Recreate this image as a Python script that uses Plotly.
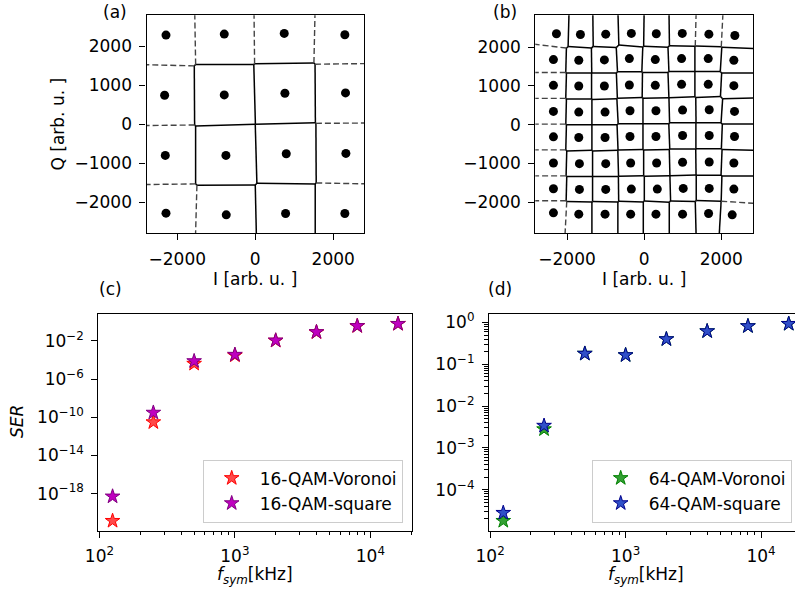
import numpy as np
import plotly.graph_objects as go

# ---------------- constellation points (I, Q) ----------------
I_16 = [-2290, -795, 744, 2299,
        -2325, -795, 761, 2316,
        -2308, -752, 795, 2325,
        -2290, -744, 778, 2299]
Q_16 = [2288, 2314, 2331, 2297,
        746, 755, 797, 806,
        -796, -796, -753, -745,
        -2278, -2321, -2287, -2287]

I_64 = [-2275, -1653, -997, -332, 315, 989, 1679, 2353,
        -2353, -1696, -1032, -384, 289, 971, 1662, 2327,
        -2353, -1696, -1032, -384, 289, 971, 1662, 2327,
        -2353, -1696, -1014, -367, 306, 997, 1688, 2344,
        -2353, -1696, -1014, -367, 306, 997, 1688, 2344,
        -2353, -1679, -997, -350, 324, 997, 1688, 2327,
        -2353, -1679, -997, -332, 341, 1014, 1688, 2327,
        -2353, -1696, -1014, -350, 306, 997, 1671, 2284]
Q_64 = [2343, 2326, 2334, 2352, 2343, 2352, 2334, 2300,
        1678, 1661, 1670, 1704, 1678, 1704, 1704, 1661,
        1014, 996, 996, 1022, 1014, 1039, 1039, 1005,
        340, 323, 323, 357, 357, 375, 383, 340,
        -316, -333, -333, -307, -307, -281, -281, -307,
        -989, -1007, -1007, -989, -989, -972, -963, -989,
        -1654, -1671, -1671, -1663, -1663, -1645, -1645, -1663,
        -2276, -2310, -2310, -2310, -2310, -2310, -2293, -2328]

# ---------------- symbol error rate vs symbol rate ----------------
f_sym = [125, 250, 500, 1000, 2000, 4000, 8000, 16000]
ser16_voronoi = [1.4e-21, 3e-11, 4e-5, 3e-4, 1.05e-2, 8e-2, 0.35, 0.6]
ser16_square = [5e-19, 3e-10, 7.5e-5, 3.5e-4, 1.1e-2, 8.3e-2, 0.36, 0.6]
ser64_voronoi = [1.8e-5, 2.8e-3, 0.18, 0.166, 0.4, 0.62, 0.82, 0.93]
ser64_square = [2.8e-5, 3.4e-3, 0.18, 0.166, 0.4, 0.62, 0.82, 0.93]

W, H = 795, 596
FONT = "DejaVu Sans"
FS = 17


def voronoi_ridges(xs, ys):
    """Voronoi ridges of a point set: finite segments and rays to far points."""
    P = np.column_stack([xs, ys]).astype(float)
    n = len(P)
    sq = (P ** 2).sum(axis=1)
    center = P.mean(axis=0)
    ptp = P.max(axis=0) - P.min(axis=0)
    far = ptp.max() * abs(ptp.max() / ptp.min())
    fin_x, fin_y, inf_x, inf_y = [], [], [], []
    idx = np.arange(n)
    for i in range(n):
        for j in range(i + 1, n):
            m = (P[i] + P[j]) / 2
            t = P[j] - P[i]
            t = t / np.linalg.norm(t)
            d = np.array([-t[1], t[0]])
            others = idx[(idx != i) & (idx != j)]
            diff = P[others] - P[i]
            a = 2 * diff @ d
            b = sq[others] - sq[i] - 2 * diff @ m
            pos, neg = a > 1e-12, a < -1e-12
            zero = ~(pos | neg)
            if np.any(b[zero] < 0):
                continue
            hi = np.min(b[pos] / a[pos]) if pos.any() else np.inf
            lo = np.max(b[neg] / a[neg]) if neg.any() else -np.inf
            if hi - lo <= 1e-6:
                continue
            if np.isfinite(lo) and np.isfinite(hi):
                p0, p1 = m + lo * d, m + hi * d
                fin_x += [p0[0], p1[0], None]
                fin_y += [p0[1], p1[1], None]
            elif np.isfinite(lo) or np.isfinite(hi):
                v = m + (lo if np.isfinite(lo) else hi) * d
                direction = np.sign(np.dot(m - center, d)) * d
                fp = v + direction * far
                inf_x += [v[0], fp[0], None]
                inf_y += [v[1], fp[1], None]
    return fin_x, fin_y, inf_x, inf_y


def padded_range(vals, frac=0.1):
    v = np.asarray(vals, float)
    span = v.max() - v.min()
    return [v.min() - frac * span, v.max() + frac * span]


def log_range(vals, frac=0.05):
    lv = np.log10(np.asarray(vals, float))
    span = lv.max() - lv.min()
    return [lv.min() - frac * span, lv.max() + frac * span]


def sup(e):
    s = str(e).replace("-", "\u2212")
    return f"10<sup>{s}</sup>"


def dom_x(x0, x1):
    return [x0 / W, min(x1 / W, 1.0)]


def dom_y(top, bottom):
    return [1 - bottom / H, 1 - top / H]


fig = go.Figure()

# ---------------- Voronoi panels ----------------
for k, (xs, ys) in enumerate([(I_16, Q_16), (I_64, Q_64)], start=1):
    fx, fy, ix, iy = voronoi_ridges(xs, ys)
    xa = "x" if k == 1 else "x2"
    ya = "y" if k == 1 else "y2"
    fig.add_trace(go.Scatter(x=fx, y=fy, mode="lines", xaxis=xa, yaxis=ya,
                             line=dict(color="black", width=1.5),
                             showlegend=False, hoverinfo="skip"))
    fig.add_trace(go.Scatter(x=ix, y=iy, mode="lines", xaxis=xa, yaxis=ya,
                             line=dict(color="#444444", width=1.4, dash="6px,3px"),
                             showlegend=False, hoverinfo="skip"))
    fig.add_trace(go.Scatter(x=xs, y=ys, mode="markers", xaxis=xa, yaxis=ya,
                             marker=dict(color="black", size=9),
                             showlegend=False))

# ---------------- SER panels ----------------
series = [
    ("16-QAM-Voronoi", ser16_voronoi, "#ff4a4a", "red", "x3", "y3", "legend"),
    ("16-QAM-square", ser16_square, "#c000c0", "#800080", "x3", "y3", "legend"),
    ("64-QAM-Voronoi", ser64_voronoi, "#33a033", "green", "x4", "y4", "legend2"),
    ("64-QAM-square", ser64_square, "#3050c8", "#00008b", "x4", "y4", "legend2"),
]
for name, vals, face, edge, xa, ya, lg in series:
    fig.add_trace(go.Scatter(x=f_sym, y=vals, mode="markers", name=name,
                             xaxis=xa, yaxis=ya, legend=lg, legendgroup=name,
                             marker=dict(symbol="star", size=11, color=face,
                                         line=dict(color=edge, width=1))))

axis_common = dict(showgrid=False, zeroline=False, showline=True, linecolor="black",
                   linewidth=1.2, mirror=True, ticks="outside", ticklen=6,
                   tickwidth=1.2, tickcolor="black", ticklabelstandoff=4,
                   automargin=False,
                   tickfont=dict(family=FONT, size=FS, color="black"))

iq_ticks = [-2000, 0, 2000]
iq_text = ["\u22122000", "0", "2000"]
iq_yticks = [-2000, -1000, 0, 1000, 2000]
iq_ytext = ["\u22122000", "\u22121000", "0", "1000", "2000"]

top_row = dom_y(15.3, 233)
bot_row = dom_y(314, 530.7)

fig.update_layout(
    xaxis=dict(axis_common, domain=dom_x(146.5, 364), range=padded_range(I_16),
               tickvals=iq_ticks, ticktext=iq_text, anchor="y"),
    yaxis=dict(axis_common, domain=top_row, range=padded_range(Q_16),
               tickvals=iq_yticks, ticktext=iq_ytext, anchor="x"),
    xaxis2=dict(axis_common, domain=dom_x(535.3, 753), range=padded_range(I_64),
                tickvals=iq_ticks, ticktext=iq_text, anchor="y2"),
    yaxis2=dict(axis_common, domain=top_row, range=padded_range(Q_64),
                tickvals=iq_yticks, ticktext=iq_ytext, anchor="x2"),
)

# log-scale panels
xr = log_range(f_sym)
ax_px = 314.0  # full axes width in px
x_minor = [m * 10 ** e for e in range(1, 5) for m in range(2, 10)]
x_minor = [v for v in x_minor if xr[0] <= np.log10(v) <= xr[1]]
log_x_common = dict(axis_common, type="log", tickvals=[100, 1000, 10000],
                    ticktext=[sup(2), sup(3), sup(4)],
                    minor=dict(tickmode="array", tickvals=x_minor, ticks="outside",
                               ticklen=3.5, tickwidth=1, tickcolor="black"))

# panel (d) runs past the right edge of the page
d_left = 489.0
d_vis = (W - d_left) / ax_px
xr_d = [xr[0], xr[0] + (xr[1] - xr[0]) * d_vis]

yr_c = log_range(ser16_voronoi + ser16_square)
yr_d = log_range(ser64_voronoi + ser64_square)
y_minor_d = [m * 10.0 ** e for e in range(-6, 1) for m in range(2, 10)]
y_minor_d = [v for v in y_minor_d if yr_d[0] <= np.log10(v) <= yr_d[1]]

fig.update_layout(
    xaxis3=dict(log_x_common, domain=dom_x(98.3, 98.3 + ax_px), range=xr, anchor="y3"),
    yaxis3=dict(axis_common, type="log", domain=bot_row, range=yr_c, anchor="x3",
                tickvals=[1e-18, 1e-14, 1e-10, 1e-6, 1e-2],
                ticktext=[sup(-18), sup(-14), sup(-10), sup(-6), sup(-2)]),
    xaxis4=dict(log_x_common, domain=dom_x(d_left, W), range=xr_d, anchor="y4"),
    yaxis4=dict(axis_common, type="log", domain=bot_row, range=yr_d, anchor="x4",
                mirror=False,
                tickvals=[1e-4, 1e-3, 1e-2, 1e-1, 1],
                ticktext=[sup(-4), sup(-3), sup(-2), sup(-1), sup(0)],
                minor=dict(tickmode="array", tickvals=y_minor_d, ticks="outside",
                           ticklen=3.5, tickwidth=1, tickcolor="black")),
)

legend_style = dict(font=dict(family=FONT, size=FS, color="black"),
                    bgcolor="rgba(255,255,255,0.8)", bordercolor="#cccccc",
                    borderwidth=1, xanchor="right", yanchor="bottom",
                    tracegroupgap=0, itemwidth=46)
fig.update_layout(
    legend=dict(legend_style, x=402.7 / W, y=1 - 522.5 / H),
    legend2=dict(legend_style, x=791.7 / W, y=1 - 522.5 / H),
)

# panel labels and axis titles
texts = [
    ("(a)", 115, 12, 0),
    ("(b)", 505, 12, 0),
    ("(c)", 110, 289, 0),
    ("(d)", 500, 289, 0),
    ("I [arb. u. ]", 255, 279, 0),
    ("I [arb. u. ]", 644, 279, 0),
    ("Q [arb. u. ]", 58, 124.5, -90),
    ("<i>SER</i>", 17, 422, -90),
    ("<i>f</i><sub><i>sym</i></sub>[kHz]", 255, 575, 0),
    ("<i>f</i><sub><i>sym</i></sub>[kHz]", 646, 575, 0),
]
for txt, px, py, rot in texts:
    fig.add_annotation(text=txt, x=px / W, y=1 - py / H, xref="paper", yref="paper",
                       showarrow=False, textangle=rot, xanchor="center", yanchor="middle",
                       font=dict(family=FONT, size=FS, color="black"))

fig.update_layout(width=W, height=H,
                  margin=dict(l=0, r=0, t=0, b=0, pad=0, autoexpand=False),
                  paper_bgcolor="white", plot_bgcolor="white",
                  font=dict(family=FONT, size=FS, color="black"))

fig.write_html("out.html")
